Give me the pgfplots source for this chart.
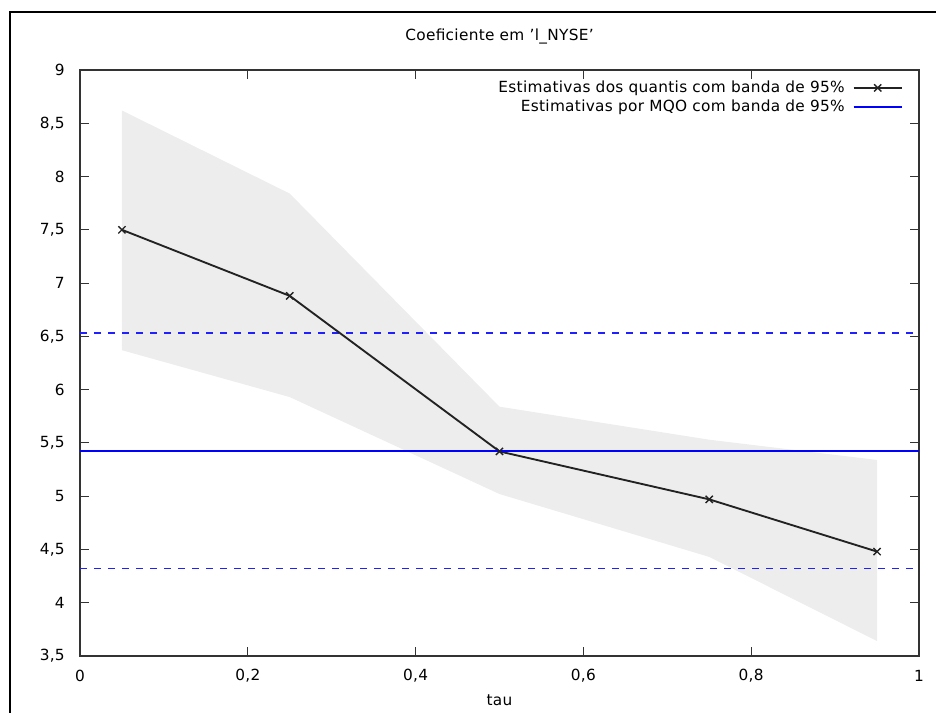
\documentclass[border=0pt]{standalone}
\usepackage{fontspec}
\setmainfont{DejaVu Sans}[LetterSpace=2]
\usepackage{pgfplots}
\pgfplotsset{compat=1.18}
\usepgfplotslibrary{fillbetween}
\definecolor{bandgray}{HTML}{EDEDED}
\definecolor{qline}{HTML}{222222}
\definecolor{olsblue}{HTML}{0000FF}
\definecolor{dashblue}{HTML}{2020FF}
\definecolor{axgray}{HTML}{333333}
\begin{document}
\fontsize{11.5pt}{13.5pt}\selectfont
\begin{tikzpicture}
\begin{axis}[
  at={(0pt,0pt)}, anchor=south west,
  scale only axis, width=629.25pt, height=439.5pt,
  xmin=0, xmax=1, ymin=3.5, ymax=9,
  xtick={0,0.2,0.4,0.6,0.8,1},
  ytick={3.5,4,4.5,5,5.5,6,6.5,7,7.5,8,8.5,9},
  tick align=inside, major tick length=6.75pt,
  every tick/.style={axgray, line width=0.8pt},
  axis line style={axgray, line width=1.2pt},
  /pgf/number format/assume math mode=true,
  /pgf/number format/use comma,
  /pgf/number format/1000 sep={},
  yticklabel style={anchor=east, xshift=-7.4pt},
  xticklabel style={anchor=center, yshift=-15pt},
  title={Coeficiente em 'l\_NYSE'},
  title style={at={(0.5,1)}, anchor=center, yshift=19.5pt},
  xlabel={tau},
  xlabel style={at={(0.5,0)}, anchor=center, yshift=-33pt},
  legend style={draw=none, fill=none, at={(1,1)}, anchor=north east,
    xshift=-9pt, yshift=-4pt, row sep=-0.5pt,
    /tikz/every even column/.append style={column sep=0pt},
    /tikz/every odd column/.append style={column sep=4pt},
    font=\fontsize{11.5pt}{13.5pt}\selectfont},
  legend cell align=right,
  legend plot pos=right,
  legend image code/.code={\draw[mark repeat=2,mark phase=2,#1] plot coordinates {(0pt,0pt)(18pt,0pt)(36pt,0pt)};},
]
\addplot[name path=up, draw=none, forget plot] coordinates {(0.05,8.62)(0.25,7.84)(0.5,5.84)(0.75,5.53)(0.95,5.34)};
\addplot[name path=lo, draw=none, forget plot] coordinates {(0.05,6.37)(0.25,5.93)(0.5,5.02)(0.75,4.43)(0.95,3.64)};
\addplot[fill=bandgray, draw=none, forget plot] fill between[of=up and lo];
\addplot[color=dashblue, line width=1.2pt, dash pattern=on 5pt off 5.5pt, forget plot] coordinates {(0,6.53)(1,6.53)};
\addplot[color=dashblue, line width=1.2pt, dash pattern=on 5pt off 5.5pt, forget plot] coordinates {(0,4.32)(1,4.32)};
\addplot[color=qline, line width=1.4pt, mark=x, mark size=3.8pt, mark options={color=qline, solid, line width=1pt}] coordinates {(0.05,7.50)(0.25,6.88)(0.5,5.42)(0.75,4.97)(0.95,4.48)};
\addlegendentry{Estimativas dos quantis com banda de 95\%}
\addplot[color=olsblue, line width=1.5pt, no marks] coordinates {(0,5.42)(1,5.42)};
\addlegendentry{Estimativas por MQO com banda de 95\%}
\end{axis}
\draw[line width=1.6pt, black] (-52.5pt,-60pt) -- (-52.5pt,483pt) -- (660pt,483pt);
\pgfresetboundingbox
\useasboundingbox (-60pt,-42.75pt) rectangle (642pt,492pt);
\end{tikzpicture}
\end{document}
